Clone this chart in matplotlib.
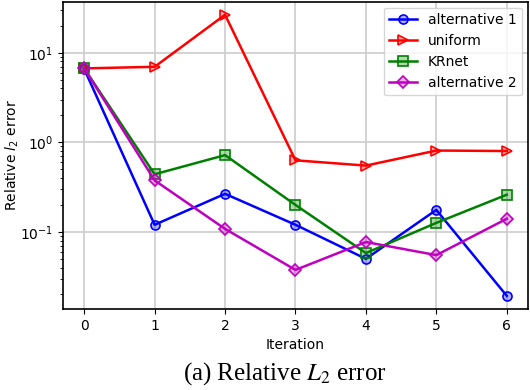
import numpy as np
import matplotlib
matplotlib.use("Agg")
import matplotlib.pyplot as plt
from matplotlib.colors import to_rgba

iterations = [0, 1, 2, 3, 4, 5, 6]
alt1 = [6.6, 0.12, 0.266, 0.12, 0.05, 0.176, 0.0193]
uniform = [6.7, 6.98, 26.6, 0.63, 0.55, 0.81, 0.80]
krnet = [6.7, 0.44, 0.72, 0.2, 0.058, 0.126, 0.26]
alt2 = [6.7, 0.376, 0.108, 0.0376, 0.077, 0.055, 0.14]

series = [
    ("alternative 1", alt1, "b", "o"),
    ("uniform", uniform, "r", ">"),
    ("KRnet", krnet, "g", "s"),
    ("alternative 2", alt2, "m", "D"),
]

plt.rcParams['mathtext.fontset'] = 'dejavusans'

fig = plt.figure(figsize=(5.3, 3.9), dpi=100)
ax = fig.add_axes([0.119, 0.208, 0.877, 0.787])

for name, vals, c, m in series:
    ms = 6 if m == "D" else 6.5
    ax.semilogy(iterations, vals, color=c, marker=m, lw=1.8, ms=ms,
                mfc=to_rgba(c, 0.3), mec=c, mew=1.2, label=name)

ax.set_ylim(0.0138, 37)
ax.set_xlim(-0.3, 6.3)
ax.grid(True, which="major", color="#cccccc", lw=1.2)
ax.set_axisbelow(True)
ax.set_xlabel("Iteration", fontsize=10, labelpad=4)
ax.set_ylabel("Relative $l_2$ error", fontsize=10)
ax.yaxis.set_label_coords(-0.09, 0.5)
ax.tick_params(labelsize=10)
for s in ax.spines.values():
    s.set_linewidth(1.2)
ax.legend(loc="upper right", fontsize=10, handlelength=2, borderaxespad=0.4)

fig.text(0.537, 0.028, "(a) Relative $L_2$ error", ha="center", fontsize=18,
         family="Liberation Serif", math_fontfamily="stix")

fig.savefig("out.png", dpi=100)
